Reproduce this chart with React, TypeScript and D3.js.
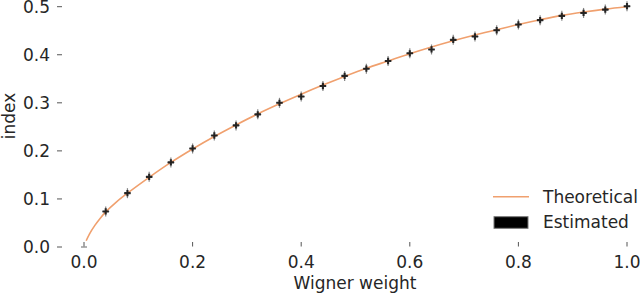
import { useRef, useEffect } from "react";
import * as d3 from "d3";

// estimated points (every 0.04 of Wigner weight)
const estX = [0.04, 0.08, 0.12, 0.16, 0.2, 0.24, 0.28, 0.32, 0.36, 0.4, 0.44, 0.48, 0.52,
  0.56, 0.6, 0.64, 0.68, 0.72, 0.76, 0.8, 0.84, 0.88, 0.92, 0.96, 1.0];
const estY = [0.074, 0.112, 0.146, 0.176, 0.205, 0.232, 0.253, 0.276, 0.300, 0.313, 0.335,
  0.356, 0.371, 0.387, 0.403, 0.411, 0.431, 0.438, 0.451, 0.463, 0.472, 0.481, 0.487, 0.494, 0.501];

// theoretical curve
const theoX = [0.004, 0.01, 0.02, 0.03, 0.04, 0.06, 0.08, 0.12, 0.16, 0.2, 0.24, 0.28, 0.32,
  0.36, 0.4, 0.44, 0.48, 0.52, 0.56, 0.6, 0.64, 0.68, 0.72, 0.76, 0.8, 0.84, 0.88, 0.92, 0.96, 1.0];
const theoY = [0.013, 0.027, 0.045, 0.060, 0.073, 0.094, 0.112, 0.145, 0.176, 0.204, 0.23,
  0.254, 0.277, 0.298, 0.318, 0.337, 0.355, 0.372, 0.387, 0.402, 0.416, 0.429, 0.441, 0.452,
  0.463, 0.473, 0.482, 0.489, 0.495, 0.5];

const xTicks = [0, 0.2, 0.4, 0.6, 0.8, 1.0];
const yTicks = [0, 0.1, 0.2, 0.3, 0.4, 0.5];

const width = 640;
const height = 293;
const font = "DejaVu Sans, sans-serif";
const textColor = "#262626";
const lineColor = "#f0a06e";

export default function App() {
  const svgRef = useRef<SVGSVGElement>(null);

  useEffect(() => {
    if (!svgRef.current) return;
    const svg = d3.select(svgRef.current);
    svg.selectAll("*").remove();

    const x = d3.scaleLinear().domain([0, 1]).range([84, 627]);
    const y = d3.scaleLinear().domain([0, 0.5]).range([247, 6.7]);

    // y ticks
    const yAxis = svg.append("g");
    yTicks.forEach((t) => {
      yAxis.append("line")
        .attr("x1", 57).attr("x2", 62)
        .attr("y1", y(t)).attr("y2", y(t))
        .attr("stroke", "#555").attr("stroke-width", 1);
      yAxis.append("text")
        .attr("x", 50).attr("y", y(t)).attr("dy", "0.36em")
        .attr("text-anchor", "end")
        .attr("font-family", font).attr("font-size", 17)
        .attr("fill", textColor)
        .text(d3.format(".1f")(t));
    });

    // x ticks
    const xAxis = svg.append("g");
    xTicks.forEach((t) => {
      xAxis.append("line")
        .attr("x1", x(t)).attr("x2", x(t))
        .attr("y1", 242).attr("y2", 246.5)
        .attr("stroke", "#555").attr("stroke-width", 1);
      xAxis.append("text")
        .attr("x", x(t)).attr("y", 267.5)
        .attr("text-anchor", "middle")
        .attr("font-family", font).attr("font-size", 17)
        .attr("fill", textColor)
        .text(d3.format(".1f")(t));
    });
    // little cap at the origin
    xAxis.append("line")
      .attr("x1", x(0) - 3).attr("x2", x(0) + 3)
      .attr("y1", 247).attr("y2", 247)
      .attr("stroke", "#666").attr("stroke-width", 1);

    // axis labels
    svg.append("text")
      .attr("x", 355).attr("y", 289)
      .attr("text-anchor", "middle")
      .attr("font-family", font).attr("font-size", 17)
      .attr("fill", textColor)
      .text("Wigner weight");
    svg.append("text")
      .attr("transform", "translate(15,116) rotate(-90)")
      .attr("text-anchor", "middle")
      .attr("font-family", font).attr("font-size", 17)
      .attr("fill", textColor)
      .text("index");

    // theoretical line
    const line = d3.line<number>()
      .x((d, i) => x(theoX[i]))
      .y((d) => y(d))
      .curve(d3.curveCatmullRom.alpha(0.5));
    svg.append("path")
      .datum(theoY)
      .attr("d", line)
      .attr("fill", "none")
      .attr("stroke", lineColor)
      .attr("stroke-width", 1.6);

    // estimated markers with error bars
    const marks = svg.append("g")
      .selectAll("g")
      .data(estY)
      .enter()
      .append("g")
      .attr("transform", (d, i) => `translate(${x(estX[i])},${y(d)})`);
    marks.append("line")
      .attr("x1", 0).attr("x2", 0).attr("y1", -5).attr("y2", 5)
      .attr("stroke", "#333").attr("stroke-opacity", 0.6).attr("stroke-width", 1.2);
    marks.append("line")
      .attr("x1", -3.5).attr("x2", 3.5).attr("y1", 0).attr("y2", 0)
      .attr("stroke", "#333").attr("stroke-opacity", 0.6).attr("stroke-width", 1.2);
    marks.append("path")
      .attr("d", d3.symbol(d3.symbolCross, 22)())
      .attr("fill", "#1a1a1a")
      .attr("fill-opacity", 0.9);

    // legend
    const legend = svg.append("g");
    legend.append("line")
      .attr("x1", 493).attr("x2", 529)
      .attr("y1", 196.7).attr("y2", 196.7)
      .attr("stroke", lineColor).attr("stroke-width", 1.6);
    legend.append("text")
      .attr("x", 543).attr("y", 196.7).attr("dy", "0.36em")
      .attr("font-family", font).attr("font-size", 17)
      .attr("fill", textColor)
      .text("Theoretical");
    legend.append("rect")
      .attr("x", 494).attr("y", 216.7)
      .attr("width", 34).attr("height", 11.6)
      .attr("fill", "#000").attr("stroke", "#777").attr("stroke-width", 1);
    legend.append("text")
      .attr("x", 543).attr("y", 222.3).attr("dy", "0.36em")
      .attr("font-family", font).attr("font-size", 17)
      .attr("fill", textColor)
      .text("Estimated");
  }, []);

  return (
    <svg
      ref={svgRef}
      width={width}
      height={height}
      viewBox={`0 0 ${width} ${height}`}
      style={{ position: "absolute", left: 0, top: 0, background: "#fff" }}
    />
  );
}
